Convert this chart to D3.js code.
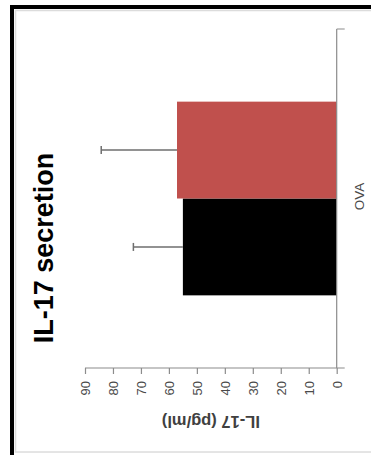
<!DOCTYPE html>
<html>
<head>
<meta charset="utf-8">
<script src="https://cdn.jsdelivr.net/npm/d3@7"></script>
<style>
  html, body { margin: 0; padding: 0; background: #fff; }
  svg { display: block; }
  text { font-family: "Liberation Sans", Arial, sans-serif; }
</style>
</head>
<body>
<svg id="chart" width="371" height="455"></svg>
<script>
// IL-17 secretion, one category with two groups (drawn sideways, value axis horizontal)
const categories = ["OVA"];
const groups = ["control", "treated"];
const means = [55.0, 57.1];
const errors = [17.7, 27.1];
const groupColors = ["#000000", "#C0504D"];
const valueTicks = [0, 10, 20, 30, 40, 50, 60, 70, 80, 90];
const titleText = "IL-17 secretion";
const valueLabel = "IL-17 (pg/ml)";

const svg = d3.select("#chart");

// outer frame with its soft inner edge
svg.append("rect")
  .attr("x", 15.5).attr("y", 10.5).attr("width", 380).attr("height", 441.5)
  .attr("fill", "none").attr("stroke", "#dcdcdc").attr("stroke-width", 1.5);
svg.append("rect")
  .attr("x", 12).attr("y", 7).attr("width", 400).attr("height", 500)
  .attr("fill", "none").attr("stroke", "#000").attr("stroke-width", 4);

// value scale runs right-to-left, categories run down the page
const x = d3.scaleLinear().domain([0, 90]).range([336.7, 85]);
const yCat = d3.scaleBand().domain(categories).range([29, 368]).paddingInner(0).paddingOuter(0);
// bars take 2 of 3.5 units in the band (gap width 150%)
const groupBand = yCat.bandwidth() * 2 / 3.5;
const yGroup = d3.scaleBand().domain(groups.slice().reverse())
  .range([0, groupBand]);

const plot = svg.append("g");

// bars
categories.forEach(cat => {
  const top = yCat(cat) + (yCat.bandwidth() - groupBand) / 2;
  const g = plot.append("g").attr("transform", `translate(0,${top})`);
  g.selectAll("rect.bar")
    .data(groups.map((k, i) => ({ k, v: means[i], e: errors[i], c: groupColors[i] })))
    .join("rect")
    .attr("class", "bar")
    .attr("x", d => x(d.v))
    .attr("y", d => yGroup(d.k))
    .attr("width", d => x(0) - x(d.v))
    .attr("height", yGroup.bandwidth())
    .attr("fill", d => d.c);

  // error bars (upper side only)
  const eb = g.selectAll("g.err")
    .data(groups.map((k, i) => ({ k, v: means[i], e: errors[i] })))
    .join("g").attr("class", "err")
    .attr("stroke", "#6e6e6e").attr("stroke-width", 1.5);
  eb.append("line")
    .attr("x1", d => x(d.v)).attr("x2", d => x(d.v + d.e))
    .attr("y1", d => yGroup(d.k) + yGroup.bandwidth() / 2)
    .attr("y2", d => yGroup(d.k) + yGroup.bandwidth() / 2);
  eb.append("line")
    .attr("x1", d => x(d.v + d.e)).attr("x2", d => x(d.v + d.e))
    .attr("y1", d => yGroup(d.k) + yGroup.bandwidth() / 2 - 4)
    .attr("y2", d => yGroup(d.k) + yGroup.bandwidth() / 2 + 4);
});

// value axis along the bottom
const xAxis = d3.axisBottom(x).tickValues(valueTicks).tickSize(6).tickSizeOuter(0).tickPadding(0);
const xg = svg.append("g").attr("transform", "translate(0,368)").call(xAxis);
xg.select(".domain").attr("stroke", "#8c8c8c").attr("stroke-width", 1.2)
  .attr("d", `M${x(90)},0H${x(0) + 8}`);
xg.selectAll(".tick line").attr("stroke", "#8c8c8c").attr("stroke-width", 1.2);
xg.selectAll(".tick text")
  .attr("fill", "#4a4a4a")
  .style("font-size", "13px")
  .attr("text-anchor", "end")
  .attr("y", 0).attr("dy", "0.35em")
  .attr("transform", "translate(0,13) rotate(-90)");

// category axis on the right
const yAxis = d3.axisRight(yCat).tickSize(0).tickPadding(0);
const yg = svg.append("g").attr("transform", `translate(${x(0)},0)`).call(yAxis);
yg.select(".domain").attr("stroke", "#8c8c8c").attr("stroke-width", 1.2)
  .attr("d", `M0,${yCat.range()[0]}V${yCat.range()[1]}M0,${yCat.range()[0]}H8`);
yg.selectAll(".tick text")
  .attr("fill", "#4a4a4a")
  .style("font-size", "13.5px")
  .attr("text-anchor", "middle")
  .attr("x", 0).attr("dy", 0)
  .attr("transform", "translate(27,-2) rotate(-90)");

// value axis title, upside down beneath the ticks
svg.append("text")
  .attr("transform", `translate(${(x(0) + x(90)) / 2},416) rotate(180)`)
  .attr("text-anchor", "middle")
  .attr("fill", "#404040")
  .style("font-size", "16.5px")
  .style("font-weight", "bold")
  .text(valueLabel);

// chart title up the left side
svg.append("text")
  .attr("transform", "translate(53,248) rotate(-90)")
  .attr("text-anchor", "middle")
  .attr("fill", "#000")
  .style("font-size", "27px")
  .style("font-weight", "bold")
  .text(titleText);
</script>
</body>
</html>
